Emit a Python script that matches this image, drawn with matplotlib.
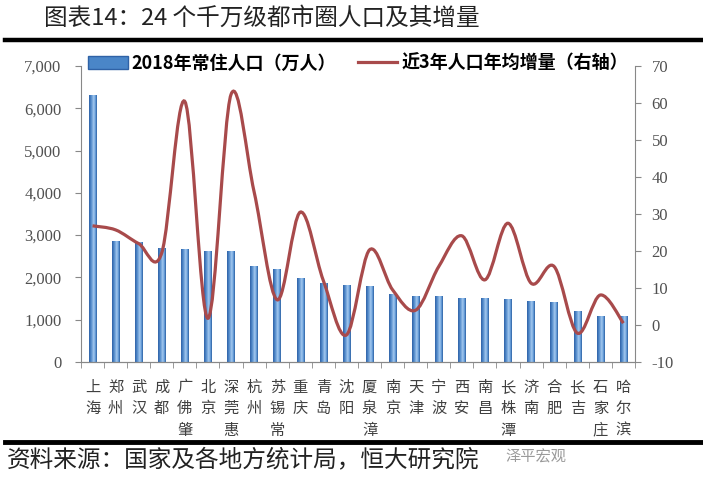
import matplotlib.pyplot as plt
import numpy as np
from matplotlib.path import Path
from matplotlib.patches import PathPatch, Patch
from matplotlib.lines import Line2D
from matplotlib.colors import LinearSegmentedColormap

plt.rcParams['font.family'] = ['Noto Sans CJK SC', 'DejaVu Sans']

# data
cities = ['上\n海', '郑\n州', '武\n汉', '成\n都', '广\n佛\n肇', '北\n京', '深\n莞\n惠', '杭\n州',
          '苏\n锡\n常', '重\n庆', '青\n岛', '沈\n阳', '厦\n泉\n漳', '南\n京', '天\n津', '宁\n波',
          '西\n安', '南\n昌', '长\n株\n潭', '济\n南', '合\n肥', '长\n吉', '石\n家\n庄', '哈\n尔\n滨']
population = [6310, 2860, 2830, 2690, 2670, 2625, 2625, 2270, 2190, 1980, 1870, 1820,
              1800, 1610, 1560, 1560, 1515, 1515, 1490, 1440, 1420, 1205, 1090, 1090]
growth = [26.8, 25.7, 22.0, 19.5, 60.4, 1.8, 62.3, 36.0, 6.8, 30.5, 12.0, -2.7,
          20.3, 9.5, 4.0, 15.8, 24.1, 12.2, 27.5, 11.3, 15.8, -2.2, 8.1, 0.5]

bar_label = '2018年常住人口（万人）'
line_label = '近3年人口年均增量（右轴）'
line_color = '#a84a4b'
tick_grey = '#505050'

fig = plt.figure(figsize=(7.03, 4.87), dpi=100)
ax = fig.add_axes([0.1152, 0.2567, 0.788, 0.6078])
ax2 = ax.twinx()

x = np.arange(len(cities))
bars = ax.bar(x, population, width=0.32, color='none', edgecolor='none', zorder=2)

# blue gradient inside each bar
cmap = LinearSegmentedColormap.from_list(
    'barg', [(0, '#2f62a6'), (0.25, '#4f88c9'), (0.6, '#a4c9f0'), (0.85, '#5a93d2'), (1, '#2c5f9f')])
grad = np.linspace(0, 1, 64).reshape(1, -1)
for b in bars:
    x0, w, h = b.get_x(), b.get_width(), b.get_height()
    im = ax.imshow(grad, cmap=cmap, aspect='auto', extent=(x0, x0 + w, 0, h), zorder=2)
    im.set_clip_path(b)

ax.set_xlim(-0.5, len(cities) - 0.5)
ax.set_ylim(0, 7000)
ax.set_yticks(np.arange(0, 7001, 1000))
ax.set_yticklabels([f'{v:,}' for v in range(0, 7001, 1000)], family='Liberation Serif',
                   fontsize=12, color=tick_grey)
ax.set_xticks(x)
ax.set_xticklabels(cities, fontsize=11, color='#404040', linespacing=1.35, va='top')
ax.set_xticks(np.arange(-0.5, len(cities), 1), minor=True)
ax.tick_params(axis='x', which='major', length=0, pad=12)
ax.tick_params(axis='x', which='minor', length=4, color='#888888', direction='out')
ax.tick_params(axis='y', length=4, color='#888888', pad=10)

# smoothed line (Bezier through the data points)
ax2.set_ylim(-10, 70)
ax2.set_yticks(np.arange(-10, 71, 10))
ax2.set_yticklabels([str(v) for v in range(-10, 71, 10)], family='Liberation Serif',
                    fontsize=12, color=tick_grey)
ax2.tick_params(axis='y', length=4, color='#888888', pad=8)
pts = np.column_stack([x, growth]).astype(float)
verts = [pts[0]]
codes = [Path.MOVETO]
n = len(pts)
for i in range(n - 1):
    p0 = pts[max(i - 1, 0)]
    p1 = pts[i]
    p2 = pts[i + 1]
    p3 = pts[min(i + 2, n - 1)]
    c1 = p1 + (p2 - p0) / 6
    c2 = p2 - (p3 - p1) / 6
    verts += [c1, c2, p2]
    codes += [Path.CURVE4] * 3
ax2.add_patch(PathPatch(Path(verts, codes), facecolor='none', edgecolor=line_color,
                        linewidth=2.3, zorder=3))

for a in (ax, ax2):
    a.spines['top'].set_visible(False)
    for s in ('left', 'right', 'bottom'):
        a.spines[s].set_color('#888888')
ax2.spines['left'].set_visible(False)
ax.spines['right'].set_visible(False)

handles = [Patch(facecolor='#4a86c8', edgecolor='#2f62a6'),
           Line2D([], [], color=line_color, linewidth=2.3)]
leg = ax2.legend(handles, [bar_label, line_label], loc='center', bbox_to_anchor=(0.5, 1.01),
                 ncol=2, frameon=True, prop={'weight': 'bold', 'size': 13}, handlelength=2.2,
                 handleheight=0.7, columnspacing=1.2, borderaxespad=0, handletextpad=0.2,
                 borderpad=0.1, fancybox=False)
leg.get_frame().set_facecolor('white')
leg.get_frame().set_edgecolor('none')

# title and frame lines
fig.text(0.373, 0.962, '图表14：24 个千万级都市圈人口及其增量', ha='center', va='center',
         fontsize=17, color='#222222')
fig.add_artist(Line2D([0.007, 0.997], [0.918, 0.918], color='black', linewidth=3.2))
fig.add_artist(Line2D([0.007, 0.997], [0.092, 0.092], color='black', linewidth=3.5))
fig.text(0.01, 0.055, '资料来源：国家及各地方统计局，恒大研究院', ha='left', va='center',
         fontsize=17, color='#222222')
fig.text(0.763, 0.062, '泽平宏观', ha='center', va='center', fontsize=11, color='#9a9a9a')

fig.savefig('out.png', dpi=100)
